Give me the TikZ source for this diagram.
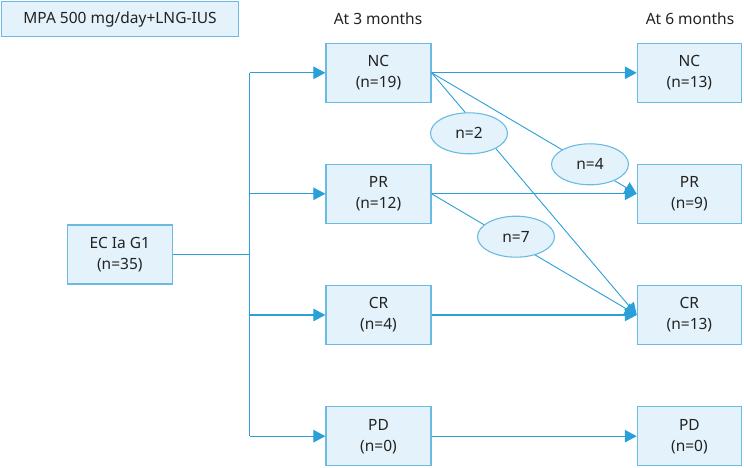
\documentclass[tikz,border=0pt]{standalone}
\usepackage{fontspec}
\setmainfont{Noto Sans}
\usetikzlibrary{arrows.meta,shapes.geometric}
\definecolor{lineblue}{HTML}{2A9FD8}
\definecolor{edgeblue}{HTML}{6BBAE3}
\definecolor{fillblue}{HTML}{E4F3FB}
\definecolor{txt}{HTML}{222222}
\tikzset{
  box/.style={draw=edgeblue, fill=fillblue, line width=1.3pt, minimum width=105pt, minimum height=59pt, inner sep=0pt, align=center, font=\fontsize{15.5}{21}\selectfont, text=txt},
  oval/.style={ellipse, draw=edgeblue, fill=fillblue, line width=1.1pt, minimum width=77pt, minimum height=41pt, inner sep=0pt, font=\fontsize{15.5}{21}\selectfont, text=txt},
  head/.style={font=\fontsize{15.5}{21}\selectfont, text=txt, inner sep=0pt},
  conn/.style={draw=lineblue, line width=1.1pt},
  arr/.style={conn, -{Triangle[length=12pt,width=12.5pt]}},
  diag/.style={draw=lineblue, line width=0.9pt, -{Triangle[length=12pt,width=12.5pt]}}
}
\begin{document}
\begin{tikzpicture}[x=1pt,y=-1pt]
\useasboundingbox (0,0) rectangle (744,468);
\node[box, minimum width=236.5pt, minimum height=35pt] (title) at (120,19.3) {MPA 500 mg/day+LNG-IUS};
\node[head] (h3) at (378,19) {At 3 months};
\node[head] (h6) at (690,19) {At 6 months};
\node[box] (ec) at (119.8,254.5) {EC Ia G1\\(n=35)};
\node[box] (nc3) at (378.5,72.8) {NC\\(n=19)};
\node[box] (pr3) at (378.5,193.8) {PR\\(n=12)};
\node[box] (cr3) at (378.5,315) {CR\\(n=4)};
\node[box] (pd3) at (378.5,436.2) {PD\\(n=0)};
\node[box, minimum width=104pt] (nc6) at (689.4,72.8) {NC\\(n=13)};
\node[box, minimum width=104pt] (pr6) at (689.4,193.8) {PR\\(n=9)};
\node[box, minimum width=104pt] (cr6) at (689.4,315) {CR\\(n=13)};
\node[box, minimum width=104pt] (pd6) at (689.4,436.2) {PD\\(n=0)};
\coordinate (vtop) at (249.5,72.8);
\coordinate (vbot) at (249.5,436.2);
\draw[conn] (ec.east) -- (ec.east -| vtop);
\draw[conn] (vtop) -- (vbot);
\draw[arr] (vtop) -- (nc3.west);
\draw[arr] (pr3.west -| vtop) -- (pr3.west);
\draw[arr] (cr3.west -| vtop) -- (cr3.west);
\draw[arr] (vbot) -- (pd3.west);
\draw[arr] (nc3.east) -- (nc6.west);
\draw[arr] (pr3.east) -- (pr6.west);
\draw[arr] (cr3.east) -- (cr6.west);
\draw[arr] (pd3.east) -- (pd6.west);
\draw[diag] (nc3.east) -- (pr6.west);
\draw[diag] (nc3.east) -- (cr6.west);
\draw[diag] (pr3.east) -- (cr6.west);
\node[oval] (e2) at (469,133.3) {n=2};
\node[oval] (e4) at (590,164.3) {n=4};
\node[oval] (e7) at (516,236.7) {n=7};
\end{tikzpicture}
\end{document}
